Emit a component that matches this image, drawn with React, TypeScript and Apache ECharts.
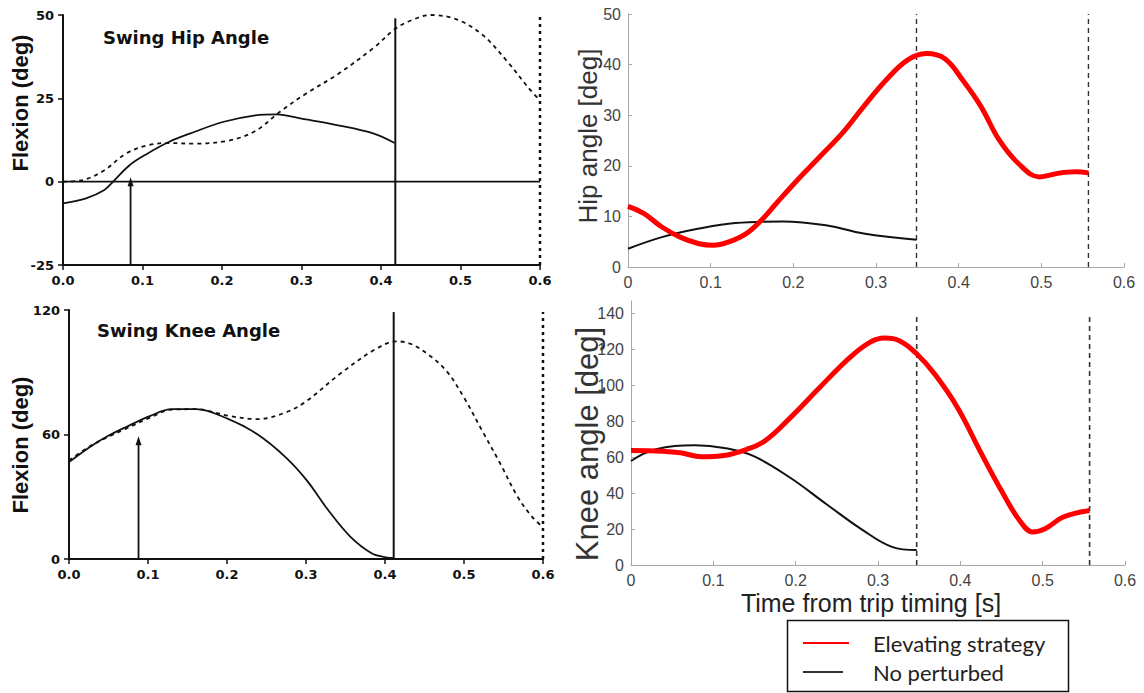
import React, { useEffect, useRef } from "react";
import * as echarts from "echarts";

// ---------- Data ----------
// Top-left: Swing Hip Angle (reference study)
const hipRefSolidX = [0, 0.029, 0.052, 0.063, 0.084, 0.106, 0.133, 0.165, 0.201, 0.242, 0.269, 0.3, 0.346, 0.391, 0.417];
const hipRefSolidY = [-6.5, -5, -2.5, 0, 5, 8.4, 11.9, 14.9, 17.9, 19.9, 20.2, 18.9, 16.9, 14.4, 11.6];
const hipRefDashX = [0, 0.025, 0.052, 0.079, 0.106, 0.133, 0.165, 0.21, 0.242, 0.273, 0.305, 0.346, 0.391, 0.417, 0.436, 0.463, 0.495, 0.527, 0.558, 0.585, 0.6];
const hipRefDashY = [0, 0.5, 3.4, 8.4, 10.9, 11.6, 11.4, 12.4, 15.2, 21, 26.3, 32.3, 40.2, 45.7, 48.2, 50, 48.7, 44.2, 36.3, 28.3, 24.3];

// Bottom-left: Swing Knee Angle (reference study)
const kneeRefSolidX = [0, 0.026, 0.048, 0.071, 0.103, 0.13, 0.161, 0.202, 0.238, 0.274, 0.301, 0.328, 0.356, 0.383, 0.401, 0.41];
const kneeRefSolidY = [46.7, 53.9, 59, 63.4, 69, 72.2, 72.2, 67.4, 60.2, 49.1, 37.9, 23.6, 10.8, 2.8, 0.8, 0.5];
const kneeRefDashX = [0, 0.026, 0.048, 0.071, 0.103, 0.13, 0.161, 0.202, 0.238, 0.274, 0.301, 0.342, 0.387, 0.415, 0.433, 0.455, 0.478, 0.5, 0.523, 0.546, 0.568, 0.586, 0.599];
const kneeRefDashY = [47.5, 54.2, 58.6, 62.6, 68.2, 72, 72.2, 69, 67.4, 70.6, 76.2, 88.9, 100.9, 104.9, 103.6, 98.5, 90.5, 77.8, 61.8, 45.9, 29.9, 20.4, 15.6];

// Top-right: Hip angle
const hipElevX = [0, 0.019, 0.041, 0.063, 0.086, 0.103, 0.121, 0.143, 0.161, 0.179, 0.205, 0.232, 0.259, 0.285, 0.312, 0.338, 0.361, 0.383, 0.405, 0.427, 0.449, 0.472, 0.498, 0.52, 0.542, 0.557];
const hipElevY = [12, 10.6, 7.9, 5.9, 4.6, 4.3, 4.9, 6.6, 9.2, 12.5, 17.2, 21.8, 26.4, 31.7, 36.9, 40.9, 42.2, 41.2, 36.9, 31.7, 25.1, 20.5, 17.8, 18.5, 18.8, 18.6];
const hipNoPertX = [0, 0.041, 0.086, 0.13, 0.188, 0.241, 0.285, 0.349];
const hipNoPertY = [3.6, 5.9, 7.6, 8.7, 9.0, 8.2, 6.6, 5.4];

// Bottom-right: Knee angle
const kneeElevX = [0, 0.038, 0.06, 0.086, 0.113, 0.14, 0.162, 0.193, 0.228, 0.264, 0.29, 0.308, 0.326, 0.347, 0.37, 0.397, 0.424, 0.45, 0.472, 0.488, 0.503, 0.525, 0.557];
const kneeElevY = [63.8, 63.4, 62.5, 60.3, 61, 64.3, 68.9, 81.8, 98.3, 114.8, 124, 126.4, 124.9, 117.6, 105.6, 87.3, 63.4, 41.3, 24.8, 18.4, 20.2, 26.7, 30.3];
const kneeNoPertX = [0, 0.029, 0.078, 0.113, 0.149, 0.193, 0.237, 0.282, 0.317, 0.347];
const kneeNoPertY = [57.9, 64.3, 66.7, 65.2, 60.6, 48.7, 34, 19.3, 10.1, 8.3];

// Event markers
const hipRefEventX = 0.418; // solid vertical
const hipRefEndX = 0.6; // dotted vertical
const hipRefArrowX = 0.085;
const kneeRefEventX = 0.411;
const kneeRefEndX = 0.6;
const kneeRefArrowX = 0.088;
const hipArrowTip = 0;
const kneeArrowTip = 57;
const rightEventX = [0.349, 0.557];
const kneeRightEventX = [0.347, 0.557];

// Axis ranges / ticks
const leftHipY = { min: -25, max: 50, interval: 25 };
const leftKneeY = { min: 0, max: 120, interval: 60 };
const rightHipY = { min: 0, max: 50, interval: 10 };
const rightKneeY = { min: 0, max: 147, interval: 20 };
const timeX = { min: 0, max: 0.6, interval: 0.1 };

// Texts
const hipTitle = "Swing Hip Angle";
const kneeTitle = "Swing Knee Angle";
const flexionLabel = "Flexion (deg)";
const hipLabel = "Hip angle [deg]";
const kneeLabel = "Knee angle [deg]";
const timeLabel = "Time from trip timing [s]";
const legendNames = ["Elevating strategy", "No perturbed"];

const zip = (xs: number[], ys: number[]) => xs.map((x, i) => [x, ys[i]]);

const BLACK = "#111111";
const RED = "#ff0000";

function leftAxes(grid: number) {
  return {
    type: "value" as const,
    gridIndex: grid,
    splitLine: { show: false },
    axisLine: { show: true, onZero: false, lineStyle: { color: BLACK, width: 2 } },
    axisTick: { show: true, length: 5, lineStyle: { color: BLACK, width: 1.5 } },
    axisLabel: {
      color: BLACK,
      fontWeight: "bold" as const,
      fontSize: 13,
      fontFamily: "DejaVu Sans, sans-serif",
      margin: 9,
    },
  };
}

function rightAxes(grid: number) {
  return {
    type: "value" as const,
    gridIndex: grid,
    splitLine: { show: false },
    axisLine: { show: true, onZero: false, lineStyle: { color: "#a8a8a8", width: 1 } },
    axisTick: { show: true, inside: true, length: 4, lineStyle: { color: "#a8a8a8", width: 1 } },
    axisLabel: {
      color: "#444444",
      fontSize: 16,
      fontFamily: "Liberation Sans, Arial, sans-serif",
      margin: 7,
      showMaxLabel: true,
    },
  };
}

function vline(x: number, y0: number, y1: number, xi: number, style: any) {
  return {
    type: "line",
    xAxisIndex: xi,
    yAxisIndex: xi,
    data: [[x, y0], [x, y1]],
    showSymbol: false,
    symbol: "none",
    lineStyle: style,
    silent: true,
    z: 1,
  };
}

export default function App() {
  const ref = useRef<HTMLDivElement>(null);
  useEffect(() => {
    if (!ref.current) return;
    const chart = echarts.init(ref.current, null, { renderer: "svg" });

    const la0 = leftAxes(0);
    const la1 = leftAxes(1);
    const ra2 = rightAxes(2);
    const ra3 = rightAxes(3);

    const option: any = {
      animation: false,
      backgroundColor: "#ffffff",
      grid: [
        { left: 63, top: 15, width: 477, height: 250 },
        { left: 69, top: 310, width: 474, height: 249 },
        { left: 628, top: 14, width: 496, height: 253 },
        { left: 631, top: 301, width: 494, height: 264 },
      ],
      xAxis: [
        { ...la0, ...timeX, axisLabel: { ...la0.axisLabel, formatter: (v: number) => v.toFixed(1) } },
        { ...la1, ...timeX, axisLabel: { ...la1.axisLabel, formatter: (v: number) => v.toFixed(1) } },
        { ...ra2, ...timeX },
        { ...ra3, ...timeX },
      ],
      yAxis: [
        { ...la0, ...leftHipY },
        { ...la1, ...leftKneeY },
        { ...ra2, ...rightHipY },
        { ...ra3, ...rightKneeY, axisLabel: { ...ra3.axisLabel, showMaxLabel: false } },
      ],
      series: [
        // ----- top-left -----
        {
          type: "line", xAxisIndex: 0, yAxisIndex: 0, name: "hip ref solid",
          data: zip(hipRefSolidX, hipRefSolidY), smooth: 0.35, showSymbol: false,
          lineStyle: { color: BLACK, width: 1.8 },
        },
        {
          type: "line", xAxisIndex: 0, yAxisIndex: 0, name: "hip ref dashed",
          data: zip(hipRefDashX, hipRefDashY), smooth: 0.35, showSymbol: false,
          lineStyle: { color: BLACK, width: 1.8, type: [4, 4] },
        },
        {
          type: "line", xAxisIndex: 0, yAxisIndex: 0, data: [[timeX.min, 0], [timeX.max, 0]],
          showSymbol: false, lineStyle: { color: BLACK, width: 1.6 }, silent: true,
        },
        vline(hipRefEventX, leftHipY.min, 49, 0, { color: BLACK, width: 2 }),
        vline(hipRefEndX, leftHipY.min, 50, 0, { color: BLACK, width: 2.5, type: [3, 4] }),
        {
          type: "line", xAxisIndex: 0, yAxisIndex: 0, silent: true,
          data: [
            { value: [hipRefArrowX, leftHipY.min], symbol: "none" },
            { value: [hipRefArrowX, hipArrowTip], symbol: "triangle", symbolSize: [6, 9] },
          ],
          showSymbol: true, showAllSymbol: true, symbol: "none",
          itemStyle: { color: BLACK }, lineStyle: { color: BLACK, width: 1.8 },
        },
        // ----- bottom-left -----
        {
          type: "line", xAxisIndex: 1, yAxisIndex: 1, name: "knee ref solid",
          data: zip(kneeRefSolidX, kneeRefSolidY), smooth: 0.35, showSymbol: false,
          lineStyle: { color: BLACK, width: 1.8 },
        },
        {
          type: "line", xAxisIndex: 1, yAxisIndex: 1, name: "knee ref dashed",
          data: zip(kneeRefDashX, kneeRefDashY), smooth: 0.35, showSymbol: false,
          lineStyle: { color: BLACK, width: 1.8, type: [4, 4] },
        },
        vline(kneeRefEventX, leftKneeY.min, 119, 1, { color: BLACK, width: 2 }),
        vline(kneeRefEndX, leftKneeY.min, 119, 1, { color: BLACK, width: 2.5, type: [3, 4] }),
        {
          type: "line", xAxisIndex: 1, yAxisIndex: 1, silent: true,
          data: [
            { value: [kneeRefArrowX, leftKneeY.min], symbol: "none" },
            { value: [kneeRefArrowX, kneeArrowTip], symbol: "triangle", symbolSize: [6, 9] },
          ],
          showSymbol: true, showAllSymbol: true, symbol: "none",
          itemStyle: { color: BLACK }, lineStyle: { color: BLACK, width: 1.8 },
        },
        // ----- top-right -----
        {
          type: "line", xAxisIndex: 2, yAxisIndex: 2, name: legendNames[1],
          data: zip(hipNoPertX, hipNoPertY), smooth: 0.4, showSymbol: false,
          lineStyle: { color: BLACK, width: 2 },
        },
        {
          type: "line", xAxisIndex: 2, yAxisIndex: 2, name: legendNames[0],
          data: zip(hipElevX, hipElevY), smooth: 0.4, showSymbol: false,
          lineStyle: { color: RED, width: 5 },
        },
        ...rightEventX.map((x) => vline(x, rightHipY.min, rightHipY.max, 2, { color: "#333333", width: 1.4, type: [5, 4] })),
        // ----- bottom-right -----
        {
          type: "line", xAxisIndex: 3, yAxisIndex: 3, name: legendNames[1],
          data: zip(kneeNoPertX, kneeNoPertY), smooth: 0.4, showSymbol: false,
          lineStyle: { color: BLACK, width: 2 },
        },
        {
          type: "line", xAxisIndex: 3, yAxisIndex: 3, name: legendNames[0],
          data: zip(kneeElevX, kneeElevY), smooth: 0.4, showSymbol: false,
          lineStyle: { color: RED, width: 5 },
        },
        ...kneeRightEventX.map((x) => vline(x, rightKneeY.min, 139, 3, { color: "#333333", width: 1.6, type: [5, 4] })),
      ],
      graphic: [
        {
          type: "text", left: 103, top: 28,
          style: { text: hipTitle, font: "bold 18px 'DejaVu Sans', sans-serif", fill: BLACK },
        },
        {
          type: "text", left: 97, top: 321,
          style: { text: kneeTitle, font: "bold 18px 'DejaVu Sans', sans-serif", fill: BLACK },
        },
        {
          type: "text", x: 20, y: 103, rotation: Math.PI / 2,
          style: { text: flexionLabel, font: "bold 22px 'Liberation Sans', Arial, sans-serif", fill: BLACK, align: "center", verticalAlign: "middle" },
        },
        {
          type: "text", x: 20, y: 445, rotation: Math.PI / 2,
          style: { text: flexionLabel, font: "bold 22px 'Liberation Sans', Arial, sans-serif", fill: BLACK, align: "center", verticalAlign: "middle" },
        },
        {
          type: "text", x: 588, y: 136, rotation: Math.PI / 2,
          style: { text: hipLabel, font: "26px 'Liberation Sans', Arial, sans-serif", fill: "#333333", align: "center", verticalAlign: "middle" },
        },
        {
          type: "text", x: 587, y: 444, rotation: Math.PI / 2,
          style: { text: kneeLabel, font: "31px 'Liberation Sans', Arial, sans-serif", fill: "#333333", align: "center", verticalAlign: "middle" },
        },
        {
          type: "text", x: 871, y: 603,
          style: { text: timeLabel, font: "25px 'Liberation Sans', Arial, sans-serif", fill: "#222222", align: "center", verticalAlign: "middle" },
        },
        // legend
        {
          type: "rect", shape: { x: 787.5, y: 620.5, width: 281, height: 71 },
          style: { fill: "#ffffff", stroke: "#111111", lineWidth: 1.5 },
        },
        { type: "line", shape: { x1: 803, y1: 643, x2: 849, y2: 643 }, style: { stroke: RED, lineWidth: 2 } },
        { type: "line", shape: { x1: 803, y1: 672, x2: 843, y2: 672 }, style: { stroke: "#333333", lineWidth: 2 } },
        {
          type: "text", x: 873, y: 643,
          style: { text: legendNames[0], font: "22px Lato, 'Open Sans', sans-serif", fill: "#222222", align: "left", verticalAlign: "middle" },
        },
        {
          type: "text", x: 873, y: 672,
          style: { text: legendNames[1], font: "22px Lato, 'Open Sans', sans-serif", fill: "#222222", align: "left", verticalAlign: "middle" },
        },
      ],
    };
    chart.setOption(option);
    return () => chart.dispose();
  }, []);

  return (
    <div
      ref={ref}
      style={{ position: "fixed", left: 0, top: 0, width: 1144, height: 693, background: "#fff" }}
    />
  );
}
